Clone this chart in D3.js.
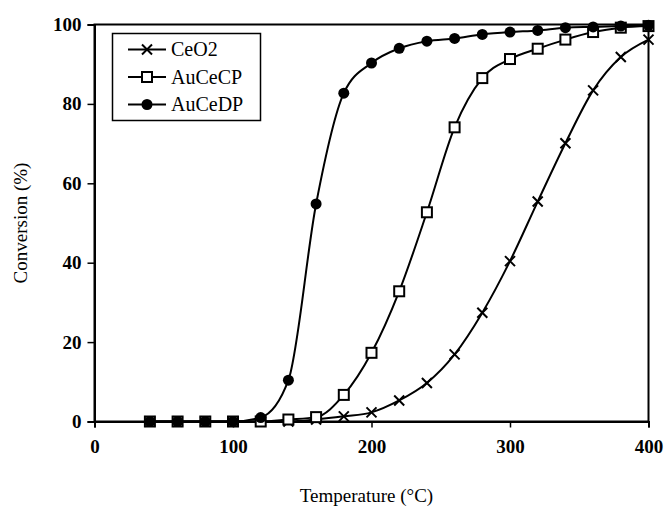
<!DOCTYPE html>
<html>
<head>
<meta charset="utf-8">
<script src="https://cdn.jsdelivr.net/npm/d3@7"></script>
<style>
  html, body { margin: 0; padding: 0; background: #fff; }
  svg { display: block; }
  text { font-family: "Liberation Serif", "Times New Roman", serif; fill: #000; }
</style>
</head>
<body>
<svg id="chart" width="664" height="506"></svg>
<script>
// ---- data ----
const temperatures = [40, 60, 80, 100, 120, 140, 160, 180, 200, 220, 240, 260, 280, 300, 320, 340, 360, 380, 400];
const ceo2   = [0, 0, 0, 0, 0, 0, 0.5, 1.3, 2.3, 5.3, 9.7, 16.9, 27.4, 40.4, 55.4, 70.1, 83.4, 91.8, 96.2];
const aucecp = [0, 0, 0, 0, 0, 0.5, 1.1, 6.7, 17.3, 32.8, 52.7, 74.1, 86.5, 91.3, 93.9, 96.2, 98.1, 99.2, 99.6];
const aucedp = [0, 0, 0, 0, 1, 10.4, 54.8, 82.7, 90.3, 94.0, 95.8, 96.5, 97.5, 98.1, 98.5, 99.2, 99.4, 99.6, 99.8];
const seriesNames = ["CeO2", "AuCeCP", "AuCeDP"];
const seriesMarkers = ["cross", "square", "circle"];
const xTicks = [0, 100, 200, 300, 400];
const yTicks = [0, 20, 40, 60, 80, 100];
const xTitle = "Temperature (°C)";
const yTitle = "Conversion (%)";

(function () {
const seriesValues = [ceo2, aucecp, aucedp];

const svg = d3.select("#chart");
const mLeft = 94.5, mRight = 648.5, mTop = 24.5, mBottom = 421.5;

const x = d3.scaleLinear().domain([0, 400]).range([mLeft, mRight]);
const y = d3.scaleLinear().domain([0, 100]).range([mBottom, mTop]);

// frame
svg.append("rect")
  .attr("x", mLeft).attr("y", mTop)
  .attr("width", mRight - mLeft).attr("height", mBottom - mTop)
  .attr("fill", "none").attr("stroke", "#000").attr("stroke-width", 2);

// axes
const xAxis = svg.append("g").attr("transform", `translate(0,${mBottom})`)
  .call(d3.axisBottom(x).tickValues(xTicks).tickSize(6).tickPadding(12).tickFormat(d3.format("d")));
const yAxis = svg.append("g").attr("transform", `translate(${mLeft},0)`)
  .call(d3.axisLeft(y).tickValues(yTicks).tickSize(7).tickPadding(6).tickFormat(d3.format("d")));
[xAxis, yAxis].forEach(a => {
  a.select(".domain").attr("stroke-width", 2);
  a.selectAll(".tick line").attr("stroke-width", 1.5);
  a.selectAll(".tick text")
    .style("font-family", '"Liberation Serif", "Times New Roman", serif')
    .style("font-size", "19px").style("font-weight", "bold");
});

// titles
svg.append("text").attr("x", (mLeft + mRight) / 2 - 5).attr("y", 502)
  .attr("text-anchor", "middle").style("font-size", "19px")
  .text(xTitle);
svg.append("text")
  .attr("transform", `translate(27,${(mTop + mBottom) / 2}) rotate(-90)`)
  .attr("text-anchor", "middle").style("font-size", "19px")
  .text(yTitle);

// marker drawing
function drawMarker(g, type, cx, cy) {
  if (type === "circle") {
    g.append("circle").attr("cx", cx).attr("cy", cy).attr("r", 5.5).attr("fill", "#000");
  } else if (type === "square") {
    g.append("rect").attr("x", cx - 5).attr("y", cy - 5).attr("width", 10).attr("height", 10)
      .attr("fill", "#fff").attr("stroke", "#000").attr("stroke-width", 2);
  } else {
    const s = 5;
    g.append("path").attr("d", `M${cx - s},${cy - s}L${cx + s},${cy + s}M${cx - s},${cy + s}L${cx + s},${cy - s}`)
      .attr("stroke", "#000").attr("stroke-width", 2).attr("fill", "none");
  }
}

const line = d3.line()
  .x((d, i) => x(temperatures[i]))
  .y(d => y(d))
  .curve(d3.curveMonotoneX);

seriesValues.forEach((vals, si) => {
  const g = svg.append("g");
  g.append("path").datum(vals).attr("d", line)
    .attr("fill", "none").attr("stroke", "#000").attr("stroke-width", 2);
  vals.forEach((v, i) => drawMarker(g, seriesMarkers[si], x(temperatures[i]), y(v)));
});

// legend
const lg = svg.append("g");
lg.append("rect").attr("x", 112.5).attr("y", 33.5).attr("width", 148).attr("height", 87)
  .attr("fill", "#fff").attr("stroke", "#000").attr("stroke-width", 1.5);
seriesNames.forEach((name, i) => {
  const cy = 49.5 + i * 27.5;
  lg.append("line").attr("x1", 128).attr("x2", 166).attr("y1", cy).attr("y2", cy)
    .attr("stroke", "#000").attr("stroke-width", 2);
  drawMarker(lg, seriesMarkers[i], 147, cy);
  lg.append("text").attr("x", 171).attr("y", cy + 6.5)
    .style("font-size", "20px").text(name);
});
})();
</script>
</body>
</html>
